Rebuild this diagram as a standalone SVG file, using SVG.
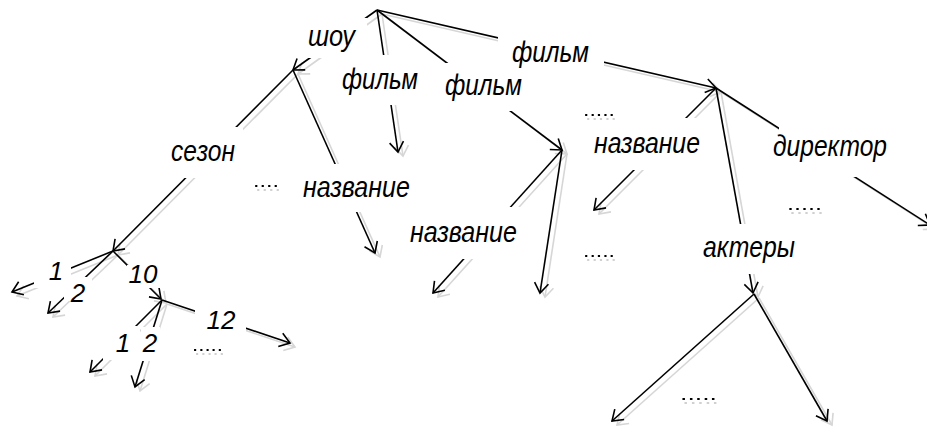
<svg xmlns="http://www.w3.org/2000/svg" width="927" height="433" viewBox="0 0 927 433">
  <style>
    .ink{fill:none;stroke:#000;stroke-width:1.6;marker-end:url(#tip)}
    .shade{fill:none;stroke:#d6d6d6;stroke-width:1.6;marker-end:url(#tip-shade)}
    .mask{fill:#fff}
    .lbl{font-family:"Liberation Sans",Arial,sans-serif;font-style:italic;font-size:29px;fill:#000}
    .num{font-family:"Liberation Sans",Arial,sans-serif;font-style:italic;font-size:26px;fill:#000;text-anchor:middle}
    .dots{font-family:"Liberation Sans",Arial,sans-serif;font-size:19px;fill:#000;filter:url(#drop)}
  </style>
  <defs>
    <marker id="tip" markerUnits="userSpaceOnUse" orient="auto" overflow="visible" markerWidth="1" markerHeight="1">
      <path d="M-10,-7L0,0L-10,7" fill="none" stroke="#000" stroke-width="1.6"/>
    </marker>
    <marker id="tip-shade" markerUnits="userSpaceOnUse" orient="auto" overflow="visible" markerWidth="1" markerHeight="1">
      <path d="M-10,-7L0,0L-10,7" fill="none" stroke="#d6d6d6" stroke-width="1.6"/>
    </marker>
    <!-- grey offset copy under the ellipsis marks -->
    <filter id="drop" x="-20%" y="-50%" width="140%" height="200%">
      <feFlood flood-color="#d0d0d0" result="grey"/>
      <feComposite in="grey" in2="SourceAlpha" operator="in" result="tint"/>
      <feOffset in="tint" dx="2" dy="4" result="shadow"/>
      <feMerge>
        <feMergeNode in="shadow"/>
        <feMergeNode in="SourceGraphic"/>
      </feMerge>
    </filter>
    <path id="e1" d="M377,10L293,70"/>
    <path id="e2" d="M377,10L398,152"/>
    <path id="e3" d="M377,10L562,150"/>
    <path id="e4" d="M377,10L716,88"/>
    <path id="e5" d="M293,70L113,251"/>
    <path id="e6" d="M293,70L375,253"/>
    <path id="e7" d="M113,251L12,292"/>
    <path id="e8" d="M113,251L48,313"/>
    <path id="e9" d="M113,251L161,299"/>
    <path id="e10" d="M162,300L290,343"/>
    <path id="e11" d="M162,300L90,372"/>
    <path id="e12" d="M162,300L135,387"/>
    <path id="e13" d="M562,150L433,293"/>
    <path id="e14" d="M562,150L540,293"/>
    <path id="e15" d="M716,88L594,210"/>
    <path id="e16" d="M716,88L753,293"/>
    <path id="e17" d="M716,88L930,225"/>
    <path id="e18" d="M754,294L612,421"/>
    <path id="e19" d="M754,294L827,421"/>
  </defs>

  <rect width="927" height="433" fill="#fff"/>

  <!-- connectors: grey drop shadow first, black lines on top -->
  <g id="connectors">
    <g class="shade" transform="translate(5,4)">
      <use href="#e1"/><use href="#e2"/><use href="#e3"/><use href="#e4"/>
      <use href="#e5"/><use href="#e6"/><use href="#e7"/><use href="#e8"/>
      <use href="#e9"/><use href="#e10"/><use href="#e11"/><use href="#e12"/>
      <use href="#e13"/><use href="#e14"/><use href="#e15"/><use href="#e16"/>
      <use href="#e17"/><use href="#e18"/><use href="#e19"/>
    </g>
    <g class="ink">
      <use href="#e1"/><use href="#e2"/><use href="#e3"/><use href="#e4"/>
      <use href="#e5"/><use href="#e6"/><use href="#e7"/><use href="#e8"/>
      <use href="#e9"/><use href="#e10"/><use href="#e11"/><use href="#e12"/>
      <use href="#e13"/><use href="#e14"/><use href="#e15"/><use href="#e16"/>
      <use href="#e17"/><use href="#e18"/><use href="#e19"/>
    </g>
  </g>

  <!-- edge labels sit on white boxes that break the lines -->
  <g id="show">
    <rect class="mask" x="300" y="18" width="67" height="40"/>
    <text class="lbl" x="308" y="46" textLength="47" lengthAdjust="spacingAndGlyphs">шоу</text>
  </g>
  <g id="film-1">
    <rect class="mask" x="336" y="55" width="88" height="50"/>
    <text class="lbl" x="342" y="89" textLength="76" lengthAdjust="spacingAndGlyphs">фильм</text>
  </g>
  <g id="film-2">
    <rect class="mask" x="438" y="63" width="90" height="48"/>
    <text class="lbl" x="445" y="95" textLength="77" lengthAdjust="spacingAndGlyphs">фильм</text>
  </g>
  <g id="film-3">
    <rect class="mask" x="498" y="30" width="106" height="42"/>
    <text class="lbl" x="512" y="62" textLength="77" lengthAdjust="spacingAndGlyphs">фильм</text>
  </g>
  <g id="season">
    <rect class="mask" x="165" y="127" width="78" height="51"/>
    <text class="lbl" x="171" y="161" textLength="64" lengthAdjust="spacingAndGlyphs">сезон</text>
  </g>
  <g id="title-show">
    <rect class="mask" x="296" y="164" width="120" height="48"/>
    <text class="lbl" x="303" y="197" textLength="107" lengthAdjust="spacingAndGlyphs">название</text>
  </g>
  <g id="title-film-2">
    <rect class="mask" x="404" y="207" width="119" height="52"/>
    <text class="lbl" x="410" y="242" textLength="107" lengthAdjust="spacingAndGlyphs">название</text>
  </g>
  <g id="title-film-3">
    <rect class="mask" x="588" y="118" width="118" height="52"/>
    <text class="lbl" x="594" y="153" textLength="106" lengthAdjust="spacingAndGlyphs">название</text>
  </g>
  <g id="director">
    <rect class="mask" x="779" y="120" width="113" height="57"/>
    <text class="lbl" x="773" y="156" textLength="114" lengthAdjust="spacingAndGlyphs">директор</text>
  </g>
  <g id="actors">
    <rect class="mask" x="697" y="224" width="104" height="50"/>
    <text class="lbl" x="703" y="257" textLength="92" lengthAdjust="spacingAndGlyphs">актеры</text>
  </g>
  <g id="season-1">
    <rect class="mask" x="34" y="256" width="37" height="32"/>
    <text class="num" x="56" y="280">1</text>
  </g>
  <g id="season-2">
    <rect class="mask" x="64" y="277" width="28" height="24"/>
    <text class="num" x="78" y="302">2</text>
  </g>
  <g id="season-10">
    <rect class="mask" x="127" y="265" width="38" height="23"/>
    <text class="num" x="143" y="283">10</text>
  </g>
  <g id="episode-12">
    <rect class="mask" x="195" y="300" width="51" height="36"/>
    <text class="num" x="221" y="329">12</text>
  </g>
  <g id="episode-1">
    <rect class="mask" x="103" y="326" width="37" height="34"/>
    <text class="num" x="123" y="352">1</text>
  </g>
  <g id="episode-2">
    <rect class="mask" x="141" y="327" width="19" height="34"/>
    <text class="num" x="150" y="352">2</text>
  </g>

  <!-- ellipsis marks -->
  <g id="more-film"><text class="dots" x="583" y="116" textLength="32" lengthAdjust="spacingAndGlyphs">.....</text></g>
  <g id="more-film-2"><text class="dots" x="583" y="257" textLength="32" lengthAdjust="spacingAndGlyphs">.....</text></g>
  <g id="more-director"><text class="dots" x="787" y="210" textLength="35" lengthAdjust="spacingAndGlyphs">.....</text></g>
  <g id="more-actors"><text class="dots" x="680" y="400" textLength="37" lengthAdjust="spacingAndGlyphs">.....</text></g>
  <g id="more-show"><text class="dots" x="253" y="187" textLength="26" lengthAdjust="spacingAndGlyphs">....</text></g>
  <g id="more-episodes"><text class="dots" x="192" y="351" textLength="31" lengthAdjust="spacingAndGlyphs">.....</text></g>
</svg>
